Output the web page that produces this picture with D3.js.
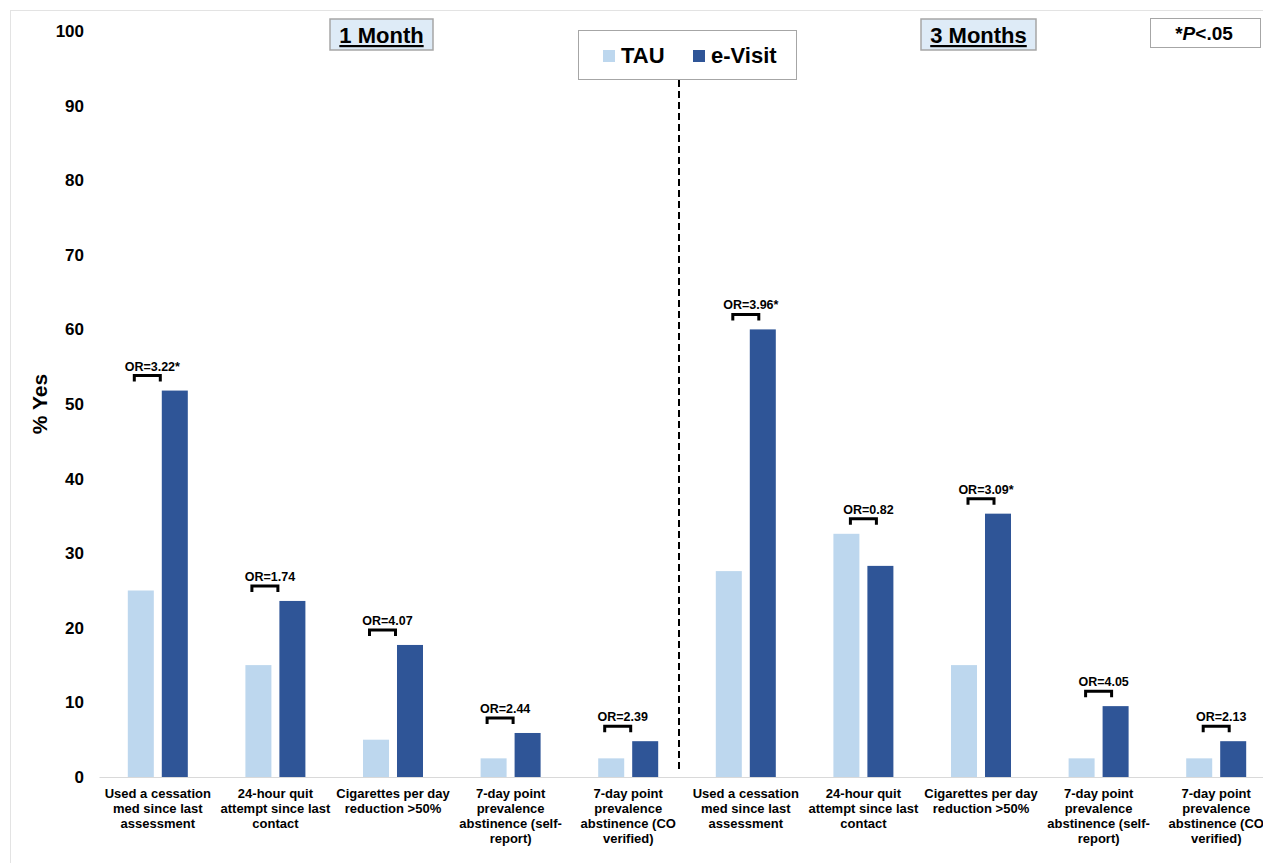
<!DOCTYPE html>
<html>
<head>
<meta charset="utf-8">
<script src="https://cdn.jsdelivr.net/npm/d3@7"></script>
<style>
  body { margin: 0; background: #fff; }
  svg { display: block; font-family: "Liberation Sans", Arial, sans-serif; font-weight: bold; }
</style>
</head>
<body>
<svg id="chart" width="1263" height="863"></svg>
<script>
// data
const periods = ["1 Month", "3 Months"];
const outcomes = [
  ["Used a cessation", "med since last", "assessment"],
  ["24-hour quit", "attempt since last", "contact"],
  ["Cigarettes per day", "reduction >50%"],
  ["7-day point", "prevalence", "abstinence (self-", "report)"],
  ["7-day point", "prevalence", "abstinence (CO", "verified)"]
];
const seriesNames = ["TAU", "e-Visit"];
const tauValues = [25, 15, 5, 2.5, 2.5, 27.6, 32.6, 15, 2.5, 2.5];
const eVisitValues = [51.8, 23.6, 17.7, 5.9, 4.8, 60, 28.3, 35.3, 9.5, 4.8];
const orLabels = ["OR=3.22*", "OR=1.74", "OR=4.07", "OR=2.44", "OR=2.39",
                  "OR=3.96*", "OR=0.82", "OR=3.09*", "OR=4.05", "OR=2.13"];
const yTicks = [0, 10, 20, 30, 40, 50, 60, 70, 80, 90, 100];

const COLORS = { "TAU": "#bdd7ee", "e-Visit": "#2f5597" };
const PLOT = { left: 99, right: 1275, top: 31, bottom: 777 };

const svg = d3.select("#chart");

// faint frame round the whole figure
svg.append("rect")
  .attr("x", 10.5).attr("y", 10.5)
  .attr("width", 1300).attr("height", 900)
  .attr("fill", "none").attr("stroke", "#e3e3e3");

const groups = [];
periods.forEach((p, pi) => outcomes.forEach((o, oi) => {
  const i = pi * outcomes.length + oi;
  groups.push({ key: String(i), period: pi, lines: o,
    values: [tauValues[i], eVisitValues[i]], or: orLabels[i] });
}));

const x = d3.scaleBand()
  .domain(groups.map(g => g.key))
  .range([PLOT.left, PLOT.right]);

const xSub = d3.scaleBand()
  .domain(seriesNames)
  .range([-30, 30])
  .paddingInner(0.235);

const y = d3.scaleLinear()
  .domain([0, 100])
  .range([PLOT.bottom, PLOT.top]);

// y axis: labels only
const yAxis = svg.append("g")
  .attr("transform", "translate(84,0)")
  .call(d3.axisLeft(y).tickValues(yTicks).tickSize(0).tickPadding(0));
yAxis.select(".domain").remove();
yAxis.selectAll("text")
  .attr("font-size", 17).attr("font-weight", "bold")
  .attr("font-family", "Liberation Sans, Arial, sans-serif")
  .attr("fill", "#000");

svg.append("text")
  .attr("transform", `translate(47,${y(50)}) rotate(-90)`)
  .attr("text-anchor", "middle")
  .attr("font-size", 21)
  .text("% Yes");

// x axis baseline + wrapped category labels
const xAxis = svg.append("g")
  .attr("transform", `translate(0,${PLOT.bottom})`)
  .call(d3.axisBottom(x).tickSize(0).tickFormat(""));
xAxis.select(".domain").attr("stroke", "#d9d9d9").attr("stroke-width", 1.2);
xAxis.selectAll(".tick text").remove();
xAxis.selectAll(".tick").each(function(k) {
  const g = groups[+k];
  const t = d3.select(this).append("text")
    .attr("text-anchor", "middle")
    .attr("font-size", 13)
    .attr("fill", "#000");
  g.lines.forEach((line, li) => {
    t.append("tspan").attr("x", 0).attr("y", 21 + li * 15).text(line);
  });
});

// bars
const barGroups = svg.append("g").selectAll("g")
  .data(groups)
  .join("g")
  .attr("transform", g => `translate(${x(g.key) + x.bandwidth() / 2},0)`);

barGroups.selectAll("rect")
  .data(g => seriesNames.map((s, si) => ({ s, v: g.values[si] })))
  .join("rect")
  .attr("x", d => xSub(d.s))
  .attr("width", xSub.bandwidth())
  .attr("y", d => y(d.v))
  .attr("height", d => y(0) - y(d.v))
  .attr("fill", d => COLORS[d.s]);

// odds ratio brackets
barGroups.each(function(g) {
  const top = y(d3.max(g.values)) - 15;
  const cx = g.period === 0 ? -10.5 : 0;
  const el = d3.select(this);
  el.append("path")
    .attr("d", `M${cx - 13},${top + 6}V${top}H${cx + 13}V${top + 6}`)
    .attr("fill", "none").attr("stroke", "#000").attr("stroke-width", 3);
  el.append("text")
    .attr("x", cx + 5).attr("y", top - 5)
    .attr("text-anchor", "middle")
    .attr("font-size", 12.5)
    .text(g.or);
});

// divider between periods
const divX = (x("4") + x.bandwidth() + x("5")) / 2 - 8;
svg.append("line")
  .attr("x1", divX).attr("x2", divX)
  .attr("y1", 80).attr("y2", 772)
  .attr("stroke", "#000").attr("stroke-width", 2)
  .attr("stroke-dasharray", "7,4");

// period title boxes
const titleBoxes = [
  { label: periods[0], x: 330, w: 103 },
  { label: periods[1], x: 921, w: 115 }
];
titleBoxes.forEach(b => {
  svg.append("rect")
    .attr("x", b.x).attr("y", 19).attr("width", b.w).attr("height", 31)
    .attr("fill", "#deebf7").attr("stroke", "#a6a6a6").attr("stroke-width", 1.5);
  svg.append("text")
    .attr("x", b.x + b.w / 2).attr("y", 43)
    .attr("text-anchor", "middle")
    .attr("font-size", 22)
    .attr("text-decoration", "underline")
    .text(b.label);
});

// legend
svg.append("rect")
  .attr("x", 578.5).attr("y", 30.5).attr("width", 218).attr("height", 49)
  .attr("fill", "#fff").attr("stroke", "#a6a6a6");
const legend = svg.append("g").selectAll("g")
  .data(seriesNames)
  .join("g")
  .attr("transform", (s, i) => `translate(${i === 0 ? 603 : 693},50)`);
legend.append("rect")
  .attr("width", 12).attr("height", 12)
  .attr("fill", s => COLORS[s]);
legend.append("text")
  .attr("x", 18).attr("y", 13)
  .attr("font-size", 22)
  .text(s => s);

// significance note
svg.append("rect")
  .attr("x", 1150.5).attr("y", 18.5).attr("width", 110).attr("height", 29)
  .attr("fill", "#fff").attr("stroke", "#a6a6a6");
const note = svg.append("text")
  .attr("x", 1204).attr("y", 40)
  .attr("text-anchor", "middle")
  .attr("font-size", 19);
note.append("tspan").text("*");
note.append("tspan").attr("font-style", "italic").text("P");
note.append("tspan").text("<.05");
</script>
</body>
</html>
